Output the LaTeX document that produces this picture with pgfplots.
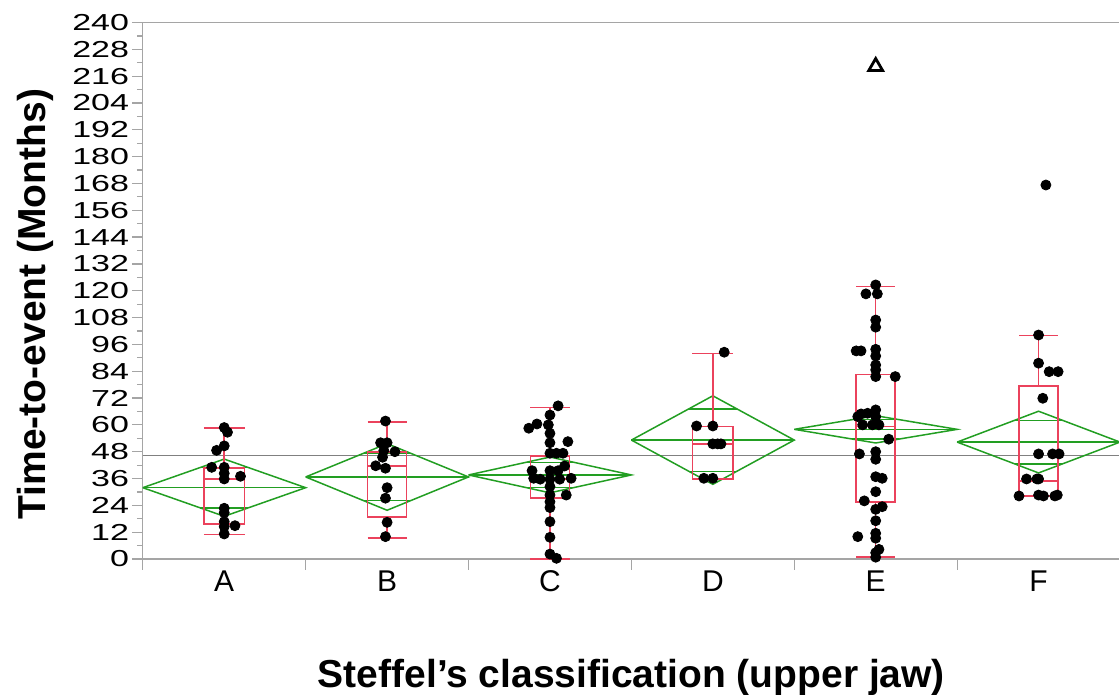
\documentclass[border=0pt]{standalone}
\usepackage{fontspec}
\setmainfont{Liberation Sans}
\usepackage{graphicx}
\usepackage{pgfplots}
\pgfplotsset{compat=1.18}
\usepgfplotslibrary{statistics}
\definecolor{boxred}{RGB}{235,66,92}
\definecolor{dgreen}{RGB}{34,158,34}
\definecolor{framegray}{RGB}{165,165,165}
\definecolor{meangray}{RGB}{128,128,128}

\pgfplotstableread{
x y
0 58.8
0.02 56.7
0 50.6
-0.047 48.6
-0.077 41.0
0 41.0
0 38.3
0 35.8
0.10 37.0
0 22.7
0 20.7
0 16.7
0.066 14.9
0 14.5
0 11.2
}\ptsA
\pgfplotstableread{
x y
0.99 61.7
0.96 52.0
1.0 52.0
1.048 48.0
0.98 48.5
0.972 45.5
0.93 41.7
0.99 40.6
1.0 31.9
0.99 27.2
1.0 16.4
0.99 10.0
}\ptsB
\pgfplotstableread{
x y
2.05 68.5
2.0 64.4
1.92 60.4
1.87 58.5
1.99 60.0
2.0 56.2
2.0 52.0
2.11 52.5
2.0 47.3
2.04 47.3
2.08 47.3
2.09 41.6
1.89 39.5
2.0 39.5
2.05 39.5
1.94 35.7
2.0 35.7
2.06 35.7
2.13 36.1
1.90 36.1
2.0 32.4
2.0 28.6
2.10 28.6
2.0 25.6
2.0 23.0
2.0 16.7
2.0 9.7
2.0 2.2
2.04 0.3
}\ptsC
\pgfplotstableread{
x y
3.07 92.5
2.90 59.5
3.0 59.5
3.0 51.5
3.03 51.5
3.05 51.5
2.945 36.1
3.0 36.1
}\ptsD
\pgfplotstableread{
x y
4.0 122.6
3.94 118.6
4.01 118.6
4.0 106.9
4.0 103.7
3.88 93.1
3.91 93.1
4.0 93.8
4.0 90.8
4.0 86.8
4.0 84.6
4.0 81.6
4.12 81.6
4.0 66.7
3.95 65.2
3.91 64.9
3.89 63.7
4.0 63.7
3.92 60.0
3.98 60.0
4.02 60.0
4.08 53.6
3.90 47.0
4.0 48.0
4.0 44.6
4.0 36.8
4.04 36.1
4.0 30.1
3.93 26.0
4.04 23.4
4.0 22.2
4.0 17.1
4.0 11.5
3.89 10.0
4.0 9.3
4.02 4.3
4.0 2.8
4.0 0.8
}\ptsE
\pgfplotstableread{
x y
5.045 167.3
5.0 100.2
5.0 87.6
5.065 83.8
5.12 83.8
5.026 71.9
5.0 47.0
5.086 47.0
5.126 47.0
4.926 35.8
4.99 35.8
5.0 35.8
4.88 28.2
5.0 28.6
5.03 28.2
5.10 28.2
5.115 28.6
}\ptsF

\begin{document}
\begin{tikzpicture}
\begin{axis}[name=ax, scale only axis, width=488.6pt, height=268.25pt,
  xmin=-0.5, xmax=5.5, ymin=0, ymax=240,
  clip=false,
  axis line style={draw=none},
  xtick={-0.5,0.5,1.5,2.5,3.5,4.5,5.5},
  xticklabels={A,B,C,D,E,F},
  x tick label as interval,
  xtick pos=bottom, ytick pos=left,
  ytick={0,12,...,240},
  minor y tick num=1,
  tick align=outside,
  major tick length=5.5pt,
  minor tick length=3pt,
  tick style={framegray, line width=0.6pt},
  /pgf/number format/assume math mode=true,
  yticklabel={\scalebox{1}[0.68]{\pgfmathprintnumber{\tick}}},
  yticklabel style={font=\fontsize{17}{17}\selectfont, anchor=east, inner sep=0pt, xshift=-1.2pt},
  xticklabel style={font=\fontsize{15}{15}\selectfont, anchor=base, inner sep=0pt, yshift=-10.85pt},
  xlabel={Steffel’s classification (upper jaw)},
  ylabel={Time-to-event (Months)},
  xlabel style={font=\bfseries\fontsize{19.5}{19.5}\selectfont, at={(axis description cs:0.5,-0.2404)}, anchor=base, inner sep=0pt},
  ylabel style={font=\bfseries\fontsize{19.5}{19.5}\selectfont, at={(axis description cs:-0.0991,0.475)}, anchor=base, inner sep=0pt},
]
% frame lines
\draw[framegray, line width=0.7pt] (rel axis cs:0,0) -- (rel axis cs:1,0);
\draw[framegray, line width=0.7pt] (rel axis cs:0,1) -- (rel axis cs:1,1);
\draw[framegray, line width=0.7pt] (rel axis cs:0,0) -- (rel axis cs:0,1);

% grand mean
\addplot[meangray, line width=0.7pt] coordinates {(-0.5,46.4) (5.5,46.4)};

% diamonds (mean, CI)
\addplot[dgreen, line width=0.75pt] coordinates {(-0.5,31.9) (0,44.7) (0.5,31.9) (0,19.1) (-0.5,31.9)};
\addplot[dgreen, line width=0.75pt] coordinates {(-0.5,31.9) (0.5,31.9)};
\addplot[dgreen, line width=0.75pt] coordinates {(-0.146,40.95) (0.146,40.95)};
\addplot[dgreen, line width=0.75pt] coordinates {(-0.146,22.85) (0.146,22.85)};

\addplot[dgreen, line width=0.75pt] coordinates {(0.5,36.7) (1,51.6) (1.5,36.7) (1,21.8) (0.5,36.7)};
\addplot[dgreen, line width=0.75pt] coordinates {(0.5,36.7) (1.5,36.7)};
\addplot[dgreen, line width=0.75pt] coordinates {(0.854,47.24) (1.146,47.24)};
\addplot[dgreen, line width=0.75pt] coordinates {(0.854,26.16) (1.146,26.16)};

\addplot[dgreen, line width=0.75pt] coordinates {(1.5,37.6) (2,45.6) (2.5,37.6) (2,29.6) (1.5,37.6)};
\addplot[dgreen, line width=0.75pt] coordinates {(1.5,37.6) (2.5,37.6)};
\addplot[dgreen, line width=0.75pt] coordinates {(1.854,43.26) (2.146,43.26)};
\addplot[dgreen, line width=0.75pt] coordinates {(1.854,31.94) (2.146,31.94)};

\addplot[dgreen, line width=0.75pt] coordinates {(2.5,53.2) (3,73.0) (3.5,53.2) (3,33.4) (2.5,53.2)};
\addplot[dgreen, line width=0.75pt] coordinates {(2.5,53.2) (3.5,53.2)};
\addplot[dgreen, line width=0.75pt] coordinates {(2.854,67.2) (3.146,67.2)};
\addplot[dgreen, line width=0.75pt] coordinates {(2.854,39.2) (3.146,39.2)};

\addplot[dgreen, line width=0.75pt] coordinates {(3.5,58.0) (4,64.1) (4.5,58.0) (4,51.9) (3.5,58.0)};
\addplot[dgreen, line width=0.75pt] coordinates {(3.5,58.0) (4.5,58.0)};
\addplot[dgreen, line width=0.75pt] coordinates {(3.854,62.31) (4.146,62.31)};
\addplot[dgreen, line width=0.75pt] coordinates {(3.854,53.69) (4.146,53.69)};

\addplot[dgreen, line width=0.75pt] coordinates {(4.5,52.3) (5,66.1) (5.5,52.3) (5,38.5) (4.5,52.3)};
\addplot[dgreen, line width=0.75pt] coordinates {(4.5,52.3) (5.5,52.3)};
\addplot[dgreen, line width=0.75pt] coordinates {(4.854,62.06) (5.146,62.06)};
\addplot[dgreen, line width=0.75pt] coordinates {(4.854,42.54) (5.146,42.54)};

% box plots
\pgfplotsset{boxstyle/.style={boxred, line width=0.75pt, solid, boxplot/draw direction=y}}
\addplot[boxstyle, boxplot prepared={draw position=0, lower whisker=10.9, lower quartile=15.7, median=35.8, upper quartile=40.7, upper whisker=58.5, box extend=0.25, whisker extend=0.25}] coordinates {};
\addplot[boxstyle, boxplot prepared={draw position=1, lower whisker=9.4, lower quartile=18.7, median=41.5, upper quartile=47.9, upper whisker=61.3, box extend=0.24, whisker extend=0.24}] coordinates {};
\addplot[boxstyle, boxplot prepared={draw position=2, lower whisker=0.1, lower quartile=27.2, median=35.8, upper quartile=46.1, upper whisker=67.7, box extend=0.24, whisker extend=0.24}] coordinates {};
\addplot[boxstyle, boxplot prepared={draw position=3, lower whisker=35.7, lower quartile=35.7, median=51.5, upper quartile=59.2, upper whisker=91.9, box extend=0.25, whisker extend=0.25}] coordinates {};
\addplot[boxstyle, boxplot prepared={draw position=4, lower whisker=1.0, lower quartile=25.6, median=59.2, upper quartile=82.5, upper whisker=121.8, box extend=0.24, whisker extend=0.24}] coordinates {};
\addplot[boxstyle, boxplot prepared={draw position=5, lower whisker=28.2, lower quartile=28.2, median=34.9, upper quartile=77.5, upper whisker=99.9, box extend=0.24, whisker extend=0.24}] coordinates {};

% points
\pgfplotsset{ptstyle/.style={only marks, mark=*, mark size=2.5pt, black, mark options={draw=black, fill=black}}}
\addplot[ptstyle] table[x=x,y=y] {\ptsA};
\addplot[ptstyle] table[x=x,y=y] {\ptsB};
\addplot[ptstyle] table[x=x,y=y] {\ptsC};
\addplot[ptstyle] table[x=x,y=y] {\ptsD};
\addplot[ptstyle] table[x=x,y=y] {\ptsE};
\addplot[ptstyle] table[x=x,y=y] {\ptsF};
\addplot[only marks, mark=triangle, mark size=4pt, black, mark options={line width=1.4pt, draw=black}] coordinates {(4,220.3)};
\end{axis}
\pgfresetboundingbox
\path[use as bounding box] ([xshift=-71.4pt,yshift=-68pt]ax.south west) rectangle ([xshift=-0.5pt,yshift=11.25pt]ax.north east);
\end{tikzpicture}
\end{document}
